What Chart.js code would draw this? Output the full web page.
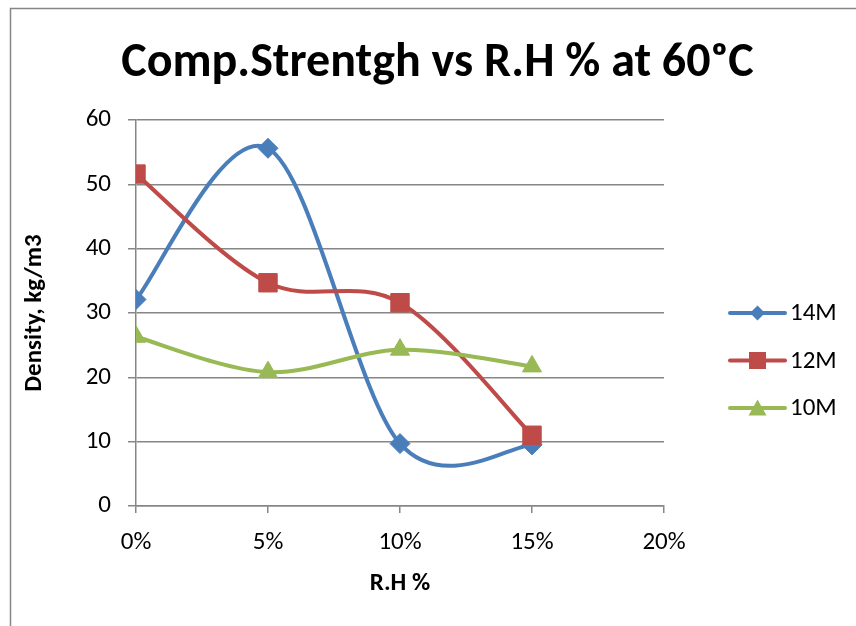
<!DOCTYPE html>
<html>
<head>
<meta charset="utf-8">
<title>Comp.Strentgh vs R.H % at 60ºC</title>
<script src="https://cdn.jsdelivr.net/npm/chart.js@4.4.1/dist/chart.umd.min.js"></script>
<style>
  html, body { margin: 0; padding: 0; background: #ffffff; }
  #wrap { width: 856px; height: 626px; position: relative; }
</style>
</head>
<body>
<div id="wrap"><canvas id="chart" width="856" height="626"></canvas></div>
<script>
// Relative humidity levels (fraction) and compressive strength readings per molarity
const rhLevels = [0, 0.05, 0.10, 0.15];
const series14M = [32.1, 55.6, 9.7, 9.5];
const series12M = [51.6, 34.7, 31.6, 11.0];
const series10M = [26.3, 20.8, 24.3, 21.7];
const seriesNames = ['14M', '12M', '10M'];
const yTicks = [0, 10, 20, 30, 40, 50, 60];
const xTicks = [0, 0.05, 0.10, 0.15, 0.20];
const chartTitle = 'Comp.Strentgh vs R.H % at 60ᵒC';

const BLUE = '#4a7ebb';
const RED = '#be4b48';
const GREEN = '#98b954';
const GRID = '#868686';
const TEXT_FONT = '"Carlito", "Liberation Sans", "DejaVu Sans", sans-serif';

function toPoints(values) {
  return rhLevels.map((x, i) => ({ x: x, y: values[i] }));
}

function makeSeries(label, values, color, style, radius, order) {
  return {
    label: label,
    data: toPoints(values),
    borderColor: color,
    backgroundColor: color,
    borderWidth: 4,
    pointStyle: style,
    pointRadius: radius,
    pointHoverRadius: radius,
    pointBorderWidth: 1,
    pointBorderColor: color,
    pointBackgroundColor: color,
    tension: 0.4,
    showLine: true,
    fill: false,
    order: order
  };
}

// Outer frame and the centred chart heading
const framePlugin = {
  id: 'frame',
  beforeDraw(chart) {
    const ctx = chart.ctx;
    ctx.save();
    ctx.fillStyle = '#ffffff';
    ctx.fillRect(0, 0, chart.width, chart.height);
    ctx.strokeStyle = GRID;
    ctx.lineWidth = 1.5;
    ctx.strokeRect(10.5, 8.5, chart.width + 20, chart.height + 20);
    ctx.fillStyle = '#000000';
    ctx.font = 'bold 48px ' + TEXT_FONT;
    ctx.textAlign = 'center';
    ctx.textBaseline = 'alphabetic';
    ctx.fillText(chartTitle, 437.5, 76);
    ctx.restore();
  }
};

// Smooth the series with uniform Catmull-Rom control points (1/6 of the neighbour span)
const smoothPlugin = {
  id: 'smoothCurves',
  beforeDatasetDraw(chart, args) {
    const meta = args.meta;
    const line = meta.dataset;
    const pts = meta.data;
    if (!line || !pts || pts.length < 2) return;
    for (let i = 0; i < pts.length; i++) {
      const cur = pts[i];
      const prev = pts[i - 1] || cur;
      const next = pts[i + 1] || cur;
      const dx = (next.x - prev.x) / 6;
      const dy = (next.y - prev.y) / 6;
      cur.cp1x = cur.x - dx;
      cur.cp1y = cur.y - dy;
      cur.cp2x = cur.x + dx;
      cur.cp2y = cur.y + dy;
    }
    line._pointsUpdated = true;
    line._path = undefined;
  }
};

// Legend on the right: line sample with the series marker in its middle
const sideLegendPlugin = {
  id: 'sideLegend',
  afterDraw(chart) {
    const ctx = chart.ctx;
    const x0 = 730, x1 = 785, textX = 790;
    const rowTop = 313, rowGap = 47.5;
    ctx.save();
    chart.data.datasets.forEach((ds, i) => {
      const y = rowTop + i * rowGap;
      const cx = (x0 + x1) / 2;
      ctx.strokeStyle = ds.borderColor;
      ctx.lineWidth = 4;
      ctx.lineCap = 'round';
      ctx.beginPath();
      ctx.moveTo(x0, y);
      ctx.lineTo(x1, y);
      ctx.stroke();
      ctx.fillStyle = ds.borderColor;
      ctx.beginPath();
      if (ds.pointStyle === 'rectRot') {
        const r = 7.5;
        ctx.moveTo(cx, y - r);
        ctx.lineTo(cx + r, y);
        ctx.lineTo(cx, y + r);
        ctx.lineTo(cx - r, y);
      } else if (ds.pointStyle === 'rect') {
        const h = 8.5;
        ctx.rect(cx - h, y - h, 2 * h, 2 * h);
      } else {
        const s = 18, hgt = 15;
        ctx.moveTo(cx, y - hgt / 2 - 1);
        ctx.lineTo(cx + s / 2, y + hgt / 2);
        ctx.lineTo(cx - s / 2, y + hgt / 2);
      }
      ctx.closePath();
      ctx.fill();
      ctx.fillStyle = '#000000';
      ctx.font = '25px ' + TEXT_FONT;
      ctx.textBaseline = 'middle';
      ctx.textAlign = 'left';
      ctx.fillText(ds.label, textX, y + 1);
    });
    ctx.restore();
  }
};

new Chart(document.getElementById('chart'), {
  type: 'scatter',
  data: {
    datasets: [
      makeSeries(seriesNames[0], series14M, BLUE, 'rectRot', 10, 3),
      makeSeries(seriesNames[1], series12M, RED, 'rect', 13, 2),
      makeSeries(seriesNames[2], series10M, GREEN, 'triangle', 11, 1)
    ]
  },
  options: {
    responsive: false,
    animation: false,
    devicePixelRatio: 1,
    layout: { padding: { left: 0, right: 192, top: 120, bottom: 0 } },
    plugins: {
      legend: { display: false },
      tooltip: { enabled: false },
      title: { display: false }
    },
    scales: {
      x: {
        type: 'linear',
        min: 0,
        max: 0.2,
        afterBuildTicks(scale) { scale.ticks = xTicks.map(v => ({ value: v })); },
        afterFit(scale) { scale.height = 120; },
        ticks: {
          color: '#000000',
          font: { family: TEXT_FONT, size: 25 },
          padding: 15,
          callback: v => Math.round(v * 100) + '%'
        },
        grid: {
          drawOnChartArea: false,
          drawTicks: true,
          tickLength: 7,
          color: GRID,
          lineWidth: 1.5
        },
        border: { display: true, color: GRID, width: 1.5 },
        title: {
          display: true,
          text: 'R.H %',
          color: '#000000',
          font: { family: TEXT_FONT, size: 25, weight: 'bold' },
          padding: { top: 0, bottom: 27 }
        }
      },
      y: {
        type: 'linear',
        min: 0,
        max: 60,
        afterBuildTicks(scale) { scale.ticks = yTicks.map(v => ({ value: v })); },
        afterFit(scale) { scale.width = 136; },
        ticks: {
          color: '#000000',
          font: { family: TEXT_FONT, size: 25 },
          padding: 17
        },
        grid: {
          drawTicks: true,
          tickLength: 8,
          color: GRID,
          lineWidth: 1.5
        },
        border: { display: true, color: GRID, width: 1.5 },
        title: {
          display: true,
          text: 'Density, kg/m3',
          color: '#000000',
          font: { family: TEXT_FONT, size: 25, weight: 'bold' },
          padding: { top: 20, bottom: 0 }
        }
      }
    }
  },
  plugins: [framePlugin, smoothPlugin, sideLegendPlugin]
});
</script>
</body>
</html>
